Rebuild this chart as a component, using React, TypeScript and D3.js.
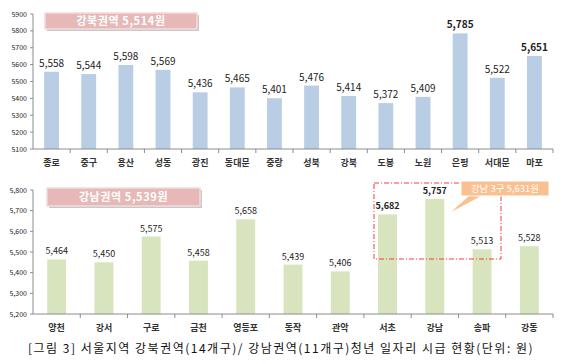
import React from 'react';
import * as d3 from 'd3';

const northDistricts = ['종로', '중구', '용산', '성동', '광진', '동대문', '중랑', '성북', '강북', '도봉', '노원', '은평', '서대문', '마포'];
const northWages = [5558, 5544, 5598, 5569, 5436, 5465, 5401, 5476, 5414, 5372, 5409, 5785, 5522, 5651];
const northBold = ['은평', '마포'];
const northTicks = [5100, 5200, 5300, 5400, 5500, 5600, 5700, 5800, 5900];

const southDistricts = ['양천', '강서', '구로', '금천', '영등포', '동작', '관악', '서초', '강남', '송파', '강동'];
const southWages = [5464, 5450, 5575, 5458, 5658, 5439, 5406, 5682, 5757, 5513, 5528];
const southBold = ['서초', '강남'];
const southTicks = [5200, 5300, 5400, 5500, 5600, 5700, 5800];

const northTitle = '강북권역 5,514원';
const southTitle = '강남권역 5,539원';
const calloutText = '강남 3구 5,631원';
const caption = '[그림 3] 서울지역 강북권역(14개구)/ 강남권역(11개구)청년 일자리 시급 현황(단위: 원)';

const FONT = '"Noto Sans CJK KR", "Noto Sans", sans-serif';
const fmt = d3.format(',');

interface PanelProps {
  cats: string[];
  values: number[];
  bold: string[];
  ticks: number[];
  domain: [number, number];
  top: number;
  bottom: number;
  color: string;
  title: string;
  titleBox: [number, number, number, number];
  tickFmt: (v: number) => string;
  labelY: number;
  valueSize: number;
}

const Panel = ({ cats, values, bold, ticks, domain, top, bottom, color, title, titleBox, tickFmt, labelY, valueSize }: PanelProps) => {
  const left = 33;
  const right = 553;
  const x = d3.scaleBand<string>().domain(cats).range([left, right]).paddingInner(0.6).paddingOuter(0.3);
  const step = (right - left) / cats.length;
  const y = d3.scaleLinear().domain(domain).range([bottom, top]);
  const [bx, by, bw, bh] = titleBox;
  return (
    <g>
      {values.map((v, i) => (
        <rect key={cats[i]} x={x(cats[i])} y={y(v)} width={x.bandwidth()} height={bottom - y(v)} fill={color} />
      ))}
      {values.map((v, i) => (
        <text key={'l' + i} x={(x(cats[i]) || 0) + x.bandwidth() / 2} y={y(v) - 5} textAnchor="middle"
          fontSize={valueSize} fontWeight={bold.includes(cats[i]) ? 'bold' : 'normal'} fill="#222">
          {fmt(v)}
        </text>
      ))}
      <line x1={left} x2={left} y1={y(domain[1])} y2={bottom} stroke="#8c8c8c" />
      <line x1={left} x2={right} y1={bottom} y2={bottom} stroke="#8c8c8c" />
      {ticks.map(t => (
        <g key={t}>
          <line x1={left - 3} x2={left} y1={y(t)} y2={y(t)} stroke="#8c8c8c" />
          <text x={left - 6} y={y(t) + 2.5} textAnchor="end" fontSize={7} fill="#222">{tickFmt(t)}</text>
        </g>
      ))}
      {cats.map((c, i) => (
        <g key={'x' + c}>
          <line x1={left + step * (i + 1)} x2={left + step * (i + 1)} y1={bottom} y2={bottom + 4} stroke="#8c8c8c" />
          <text x={(x(c) || 0) + x.bandwidth() / 2} y={labelY} textAnchor="middle" fontSize={9} fontWeight="bold" fill="#333">{c}</text>
        </g>
      ))}
      <rect x={bx + 2} y={by + 2} width={bw} height={bh} fill="#c8c8c8" />
      <rect x={bx} y={by} width={bw} height={bh} fill="#e6b9b8" stroke="#f2dcdb" strokeWidth={1.5} />
      <text x={bx + bw / 2} y={by + bh / 2 + 4} textAnchor="middle" fontSize={11} fontWeight="bold" fill="#fff" letterSpacing={0.6}>{title}</text>
    </g>
  );
};

const App = () => {
  return (
    <svg width={562} height={364} style={{ position: 'absolute', left: 0, top: 0, fontFamily: FONT }}>
      <rect width={562} height={364} fill="#fff" />
      <Panel cats={northDistricts} values={northWages} bold={northBold} ticks={northTicks} domain={[5100, 5900]}
        top={14} bottom={149} color="#b9cde5" title={northTitle} titleBox={[45, 13, 152, 16]}
        tickFmt={v => String(v)} labelY={166} valueSize={10} />
      <Panel cats={southDistricts} values={southWages} bold={southBold} ticks={southTicks} domain={[5200, 5800]}
        top={190} bottom={314} color="#d7e4bd" title={southTitle} titleBox={[47, 188, 153, 18]}
        tickFmt={v => fmt(v)} labelY={331} valueSize={9} />
      <rect x={374} y={183} width={127} height={76} fill="none" stroke="#ff3b3b" strokeDasharray="5,2,1,2" strokeWidth={1} />
      <path d="M 470 195 L 451 212 L 483 195 Z" fill="#fac090" />
      <rect x={461} y={181} width={88} height={15} fill="#fac090" stroke="#fff" strokeWidth={1} />
      <text x={505} y={192} textAnchor="middle" fontSize={9.5} fill="#fff">{calloutText}</text>
      <text x={281} y={353} textAnchor="middle" fontSize={12} fill="#111" letterSpacing={1.5}
        fontFamily='"Noto Sans CJK KR", sans-serif'>{caption}</text>
    </svg>
  );
};

export default App;
